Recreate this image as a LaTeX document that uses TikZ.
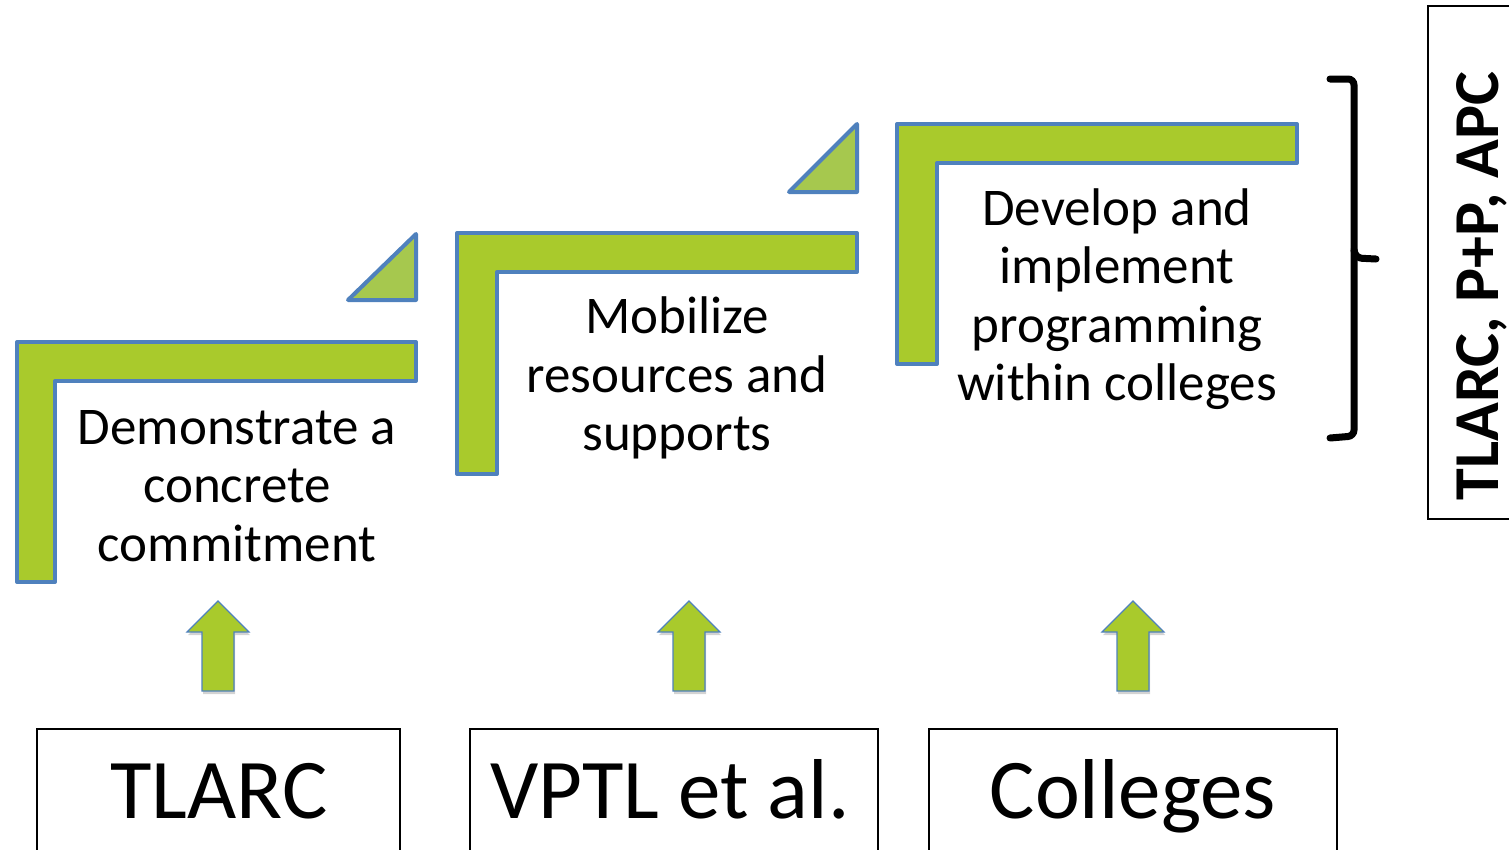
\documentclass[tikz,border=0pt]{standalone}
\usepackage{fontspec}
\setmainfont{Carlito}
\usetikzlibrary{positioning,shadows}
\definecolor{stepgreen}{HTML}{A9CA2C}
\definecolor{trigreen}{HTML}{A6C84E}
\definecolor{edgeblue}{HTML}{4F81BD}
\begin{document}
\begin{tikzpicture}[x=1pt, y=-1pt,
    lshape/.style = {draw=edgeblue, fill=stepgreen, line width=4pt, line join=round},
    tri/.style = {draw=edgeblue, fill=trigreen, line width=4pt, line join=round},
    uparrow/.style = {draw=edgeblue, fill=stepgreen, line width=1.2pt,
        drop shadow={opacity=0.35, shadow xshift=1pt, shadow yshift=-3pt}},
    goal/.style = {align=center, font=\fontsize{53}{58.5}\selectfont},
    actor/.style = {anchor=base, font=\fontsize{85}{100}\selectfont}]
\useasboundingbox (0,0) rectangle (1509,849);

% steps
\draw[lshape] (17,342) -- (416,342) -- (416,381) -- (55,381) -- (55,582) -- (17,582) -- cycle;
\draw[lshape] (457,233) -- (857,233) -- (857,272) -- (497,272) -- (497,474) -- (457,474) -- cycle;
\draw[lshape] (897,124) -- (1297,124) -- (1297,163) -- (937,163) -- (937,364) -- (897,364) -- cycle;
\draw[tri] (348,300) -- (416,300) -- (416,234) -- cycle;
\draw[tri] (789,192) -- (857,192) -- (857,124) -- cycle;

\node[goal] (commit) at (237,486) {Demonstrate a\\concrete\\commitment};
\node[goal] (mobil) at (677,378) {Mobilize\\resources and\\supports};
\node[goal] (devel) at (1117,299) {Develop and\\implement\\programming\\within colleges};

% arrows
\foreach \cx in {218,689,1133}
    \filldraw[uparrow] (\cx,601) -- (\cx+31,632) -- (\cx+16,632) -- (\cx+16,691)
        -- (\cx-16,691) -- (\cx-16,632) -- (\cx-31,632) -- cycle;

% actors
\draw[line width=1.5pt] (37,855) -- (37,729) -- (400,729) -- (400,855);
\draw[line width=1.5pt] (470,855) -- (470,729) -- (878,729) -- (878,855);
\draw[line width=1.5pt] (929,855) -- (929,729) -- (1337,729) -- (1337,855);
\node[actor] (tlarc) at (219,818) {TLARC};
\node[actor] (vptl) at (670,818) {VPTL et al.};
\node[actor] (coll) at (1133,818) {Colleges};

% brace and overseers
\draw[line width=7pt, line cap=round, rounded corners=6pt]
    (1330,79) -- (1354,79) -- (1354,436) -- (1330,438);
\draw[line width=7pt, line cap=round, rounded corners=6pt]
    (1354,250) -- (1356,258) -- (1376,259);
\draw[line width=1.5pt] (1515,6) -- (1428,6) -- (1428,519) -- (1515,519);
\node[rotate=90, anchor=base, font=\bfseries\fontsize{64}{70}\selectfont] (over) at (1498,286) {TLARC, P+P, APC};
\end{tikzpicture}
\end{document}
